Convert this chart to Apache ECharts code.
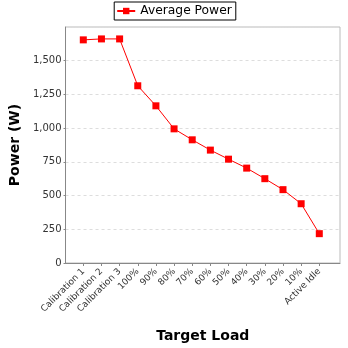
<!DOCTYPE html>
<html><head><meta charset="utf-8">
<script src="https://cdn.jsdelivr.net/npm/echarts@6/dist/echarts.min.js"></script>
<style>html,body{margin:0;padding:0;background:#fff}#c{width:348px;height:348px}</style>
</head><body><div id="c"></div>
<script>
var categories = ['Calibration 1','Calibration 2','Calibration 3','100%','90%','80%','70%','60%','50%','40%','30%','20%','10%','Active Idle'];
var powerValues = [1655, 1662, 1662, 1316, 1168, 998, 917, 841, 774, 708, 630, 549, 445, 224];
var yTicks = [0, 250, 500, 750, 1000, 1250, 1500];
var seriesName = 'Average Power';

var chart = echarts.init(document.getElementById('c'), null, {renderer: 'canvas'});
var font = 'DejaVu Sans';
var gridTop = 27, gridBottom = 84;
chart.setOption({
  animation: false,
  textStyle: {fontFamily: font},
  legend: {
    data: [seriesName],
    top: 2, left: 'center',
    itemWidth: 18, itemHeight: 8, itemGap: 4,
    borderColor: '#000', borderWidth: 1, padding: [3, 4, 3, 2],
    textStyle: {fontFamily: font, fontSize: 12.3, color: '#000'}
  },
  grid: [
    {left: 62, right: 8, top: gridTop, bottom: gridBottom, show: true, borderColor: '#bbb', borderWidth: 1},
    {left: 83.3, right: 28.7, top: gridTop, bottom: gridBottom}
  ],
  xAxis: [
    {gridIndex: 0, type: 'value', min: 0, max: 1, show: true,
     axisLine: {show: true, lineStyle: {color: '#888'}}, axisTick: {show: false}, axisLabel: {show: false}, splitLine: {show: false},
     name: 'Target Load', nameLocation: 'middle', nameGap: 66,
     nameTextStyle: {fontFamily: font, fontWeight: 'bold', fontSize: 14, color: '#000'}},
    {gridIndex: 1, type: 'category', data: categories, boundaryGap: false,
     axisLine: {show: false},
     axisTick: {show: true, length: 2, alignWithLabel: true, lineStyle: {color: '#888'}},
     axisLabel: {rotate: 45, fontSize: 9, color: '#333', margin: 6, interval: 0, fontFamily: font},
     splitLine: {show: false}}
  ],
  yAxis: [
    {gridIndex: 0, type: 'value', min: 0, max: 1750, interval: 250,
     axisLine: {show: true, lineStyle: {color: '#888'}},
     axisTick: {show: true, length: 2, lineStyle: {color: '#888'}},
     axisLabel: {fontSize: 10, color: '#333', margin: 4, fontFamily: font, showMaxLabel: false,
       formatter: function (v) { return yTicks.indexOf(v) >= 0 ? v.toLocaleString('en-US') : ''; }},
     splitLine: {show: true, lineStyle: {color: '#ddd', type: [3, 3]}},
     name: 'Power (W)', nameLocation: 'middle', nameGap: 35,
     nameTextStyle: {fontFamily: font, fontWeight: 'bold', fontSize: 14, color: '#000'}},
    {gridIndex: 1, type: 'value', min: 0, max: 1750, show: false}
  ],
  series: [{
    name: seriesName, type: 'line', xAxisIndex: 1, yAxisIndex: 1,
    data: powerValues,
    symbol: 'rect', symbolSize: 7,
    lineStyle: {color: '#ff0000', width: 1},
    itemStyle: {color: '#ff0000'}
  }]
});
</script></body></html>
